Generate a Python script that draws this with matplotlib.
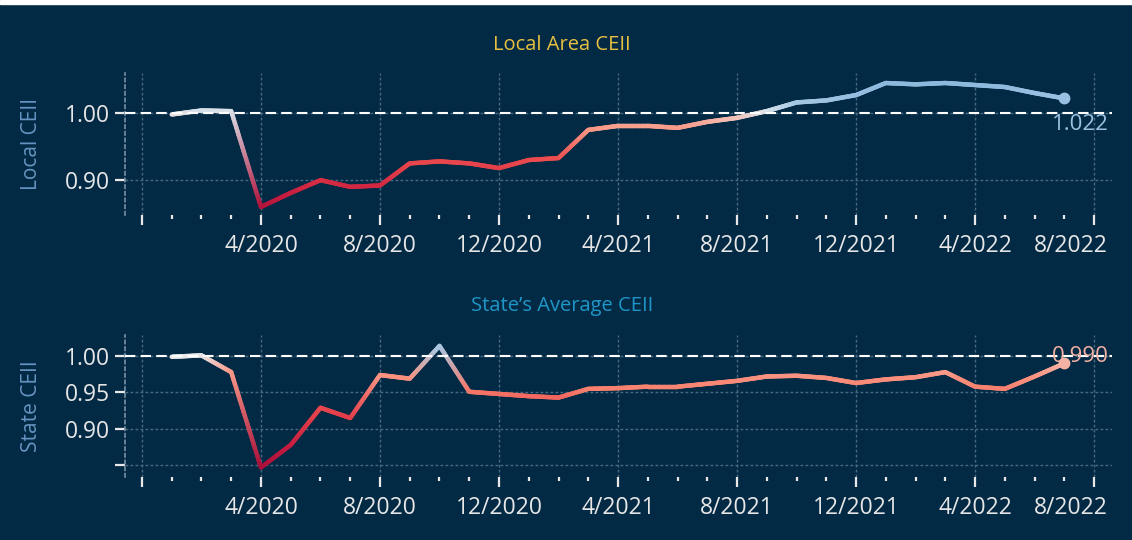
import numpy as np
import matplotlib
matplotlib.use("Agg")
import matplotlib.pyplot as plt
import matplotlib.transforms as mtransforms
from matplotlib.collections import LineCollection
from matplotlib.colors import LinearSegmentedColormap, TwoSlopeNorm, to_rgba
from matplotlib.patches import Rectangle

# months 1/2020 .. 7/2022, index 0 = 12/2019
months = np.arange(1, 32)
local_ceii = [0.998, 1.004, 1.003, 0.860, 0.881, 0.900, 0.890, 0.892, 0.925, 0.928,
              0.925, 0.918, 0.930, 0.933, 0.975, 0.981, 0.981, 0.978, 0.987, 0.993,
              1.003, 1.016, 1.019, 1.027, 1.045, 1.043, 1.045, 1.042, 1.039, 1.030,
              1.022]
state_ceii = [0.999, 1.001, 0.978, 0.847, 0.878, 0.929, 0.915, 0.974, 0.969, 1.014,
              0.951, 0.948, 0.945, 0.943, 0.955, 0.956, 0.958, 0.958, 0.962, 0.966,
              0.972, 0.973, 0.970, 0.963, 0.968, 0.971, 0.978, 0.958, 0.955, 0.972,
              0.990]
tick_pos = [0, 4, 8, 12, 16, 20, 24, 28, 32]
tick_labels = ["", "4/2020", "8/2020", "12/2020", "4/2021", "8/2021", "12/2021", "4/2022", "8/2022"]

BG = "#032a45"
plt.rcParams['font.family'] = ['Open Sans', 'DejaVu Sans']

cmap = LinearSegmentedColormap.from_list("ceii", [
    (0.0, "#a80f3a"), (0.1, "#c81e40"), (0.17, "#d93044"), (0.27, "#ea4a4e"),
    (0.35, "#f7806e"), (0.42, "#fa9684"), (0.47, "#f4b4a6"), (0.5, "#ececec"),
    (0.6, "#b0cee6"), (0.7, "#9cc2e2"), (1.0, "#8ab6dc")])
norm = TwoSlopeNorm(vcenter=1.0, vmin=0.85, vmax=1.05)

fig = plt.figure(figsize=(11.32, 5.40), dpi=100, facecolor=BG)
fig.patches.append(Rectangle((0, 1 - 4 / 540), 1, 4 / 540, transform=fig.transFigure,
                             color="white", zorder=0))


def panel(rect, vals, ylim, yticks, ylabels, title, tcolor, title_y, ylabel, lbl, loffset):
    ax = fig.add_axes(rect, facecolor=BG)
    vals = np.asarray(vals)
    # colour each point, then fade linearly between neighbours
    pcols = [np.array(to_rgba(cmap(norm(v)))) for v in vals]
    segs, cols = [], []
    for i in range(len(vals) - 1):
        t = np.linspace(0, 1, 25)
        xs = months[i] + t * (months[i + 1] - months[i])
        ys = vals[i] + t * (vals[i + 1] - vals[i])
        for k in range(len(t) - 1):
            tm = (t[k] + t[k + 1]) / 2
            segs.append([(xs[k], ys[k]), (xs[k + 1], ys[k + 1])])
            cols.append(pcols[i] * (1 - tm) + pcols[i + 1] * tm)
    lc = LineCollection(segs, colors=cols, linewidths=3.2, capstyle="round",
                        joinstyle="round", zorder=3)
    ax.add_collection(lc)
    last_col = pcols[-1]
    ax.plot(months[-1], vals[-1], "o", ms=7.5, color=last_col, zorder=4)
    ax.annotate(lbl, (months[-1], vals[-1]), xytext=loffset, textcoords="offset points",
                ha="center", va="center", fontsize=16, color=last_col, zorder=5)
    ax.axhline(1.0, color="white", lw=1.5, ls=(0, (5, 2.5)), zorder=4)

    ax.set_xlim(-0.57, 32.6)
    ax.set_ylim(*ylim)
    ax.set_xticks(tick_pos)
    ax.set_xticklabels(tick_labels)
    ax.set_xticks(months, minor=True)
    ax.set_yticks(yticks)
    ax.set_yticklabels(ylabels)
    ax.tick_params(axis="x", which="major", length=7, width=1.6, color="#e8e8e8",
                   labelsize=16.5, labelcolor="#e6e6e6", pad=7)
    ax.tick_params(axis="x", which="minor", length=3, width=1.6, color="#e8e8e8")
    ax.tick_params(axis="y", length=7, width=1.6, color="#e8e8e8",
                   labelsize=16.5, labelcolor="#e6e6e6", pad=4)
    # last date label is pulled left so it stays inside the view
    lab = ax.get_xticklabels()[-1]
    lab.set_transform(lab.get_transform() +
                      mtransforms.ScaledTranslation(-23 / 100, 0, fig.dpi_scale_trans))
    for s in ["top", "right", "bottom"]:
        ax.spines[s].set_visible(False)
    ax.spines["left"].set_color("#7890a5")
    ax.spines["left"].set_linestyle((0, (2, 2)))
    ax.spines["left"].set_linewidth(1.2)
    ax.grid(True, which="major", color="#4a6880", lw=1.0, ls=(0, (2, 1.6)))
    ax.set_axisbelow(True)
    ax.set_ylabel(ylabel, fontsize=15, color="#6494bf")
    ax.yaxis.set_label_coords(-0.084, 0.5)
    fig.text(562 / 1132, 1 - title_y / 540, title, fontsize=14.5, color=tcolor,
             ha="center", va="center")
    return ax


panel([0.1104, 0.6019, 0.8719, 0.2630], local_ceii, (0.848, 1.060), [0.90, 1.00],
      ["0.90", "1.00"], "Local Area CEII", "#e8c040", 45, "Local CEII", "1.022", (11.5, -19))
panel([0.1104, 0.1167, 0.8719, 0.2630], state_ceii, (0.834, 1.029), [0.85, 0.90, 0.95, 1.00],
      ["", "0.90", "0.95", "1.00"], "State\u2019s Average CEII", "#1f96c8", 306, "State CEII",
      "0.990", (11.5, 5))

fig.savefig("out.png", dpi=100, facecolor=BG)
